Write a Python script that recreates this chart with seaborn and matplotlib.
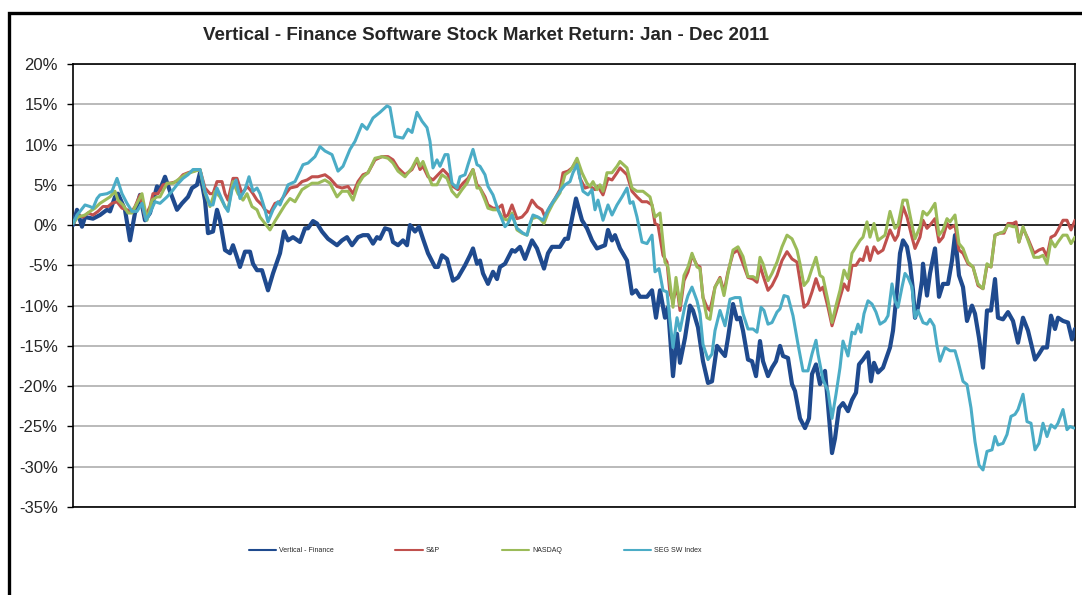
import numpy as np
import pandas as pd
import seaborn as sns
import matplotlib.pyplot as plt
from matplotlib.ticker import PercentFormatter, MultipleLocator
from matplotlib.patches import Rectangle

# position in the year (0 = first trading day of Jan, 1002 = last of Dec), return in %
vf_t = [0, 4, 9, 12, 20, 27, 34, 37, 42, 45, 52, 57, 62, 67, 72, 77, 84, 87, 92, 97,
        104, 109, 115, 119, 124, 127, 132, 135, 140, 144, 147, 152, 157, 160, 164, 167, 172, 177, 180, 184,
        189, 195, 200, 207, 211, 215, 220, 227, 232, 235, 240, 244, 249, 255, 264, 269, 274, 279, 285, 290,
        295, 300, 304, 307, 312, 317, 320, 325, 330, 334, 337, 342, 346, 350, 355, 362, 365, 369, 374, 380,
        385, 392, 397, 400, 404, 407, 410, 415, 420, 424, 427, 432, 439, 442, 447, 452, 459, 464, 471, 475,
        479, 487, 492, 495, 503, 509, 514, 519, 524, 532, 535, 539, 542, 547, 554, 559, 563, 567, 574, 579,
        583, 587, 592, 595, 600, 604, 607, 612, 617, 620, 625, 630, 635, 639, 644, 649, 652, 655, 660, 664,
        667, 670, 675, 679, 683, 687, 690, 695, 699, 703, 707, 710, 715, 719, 722, 727, 732, 736, 739, 743,
        747, 752, 755, 759, 762, 766, 770, 775, 779, 783, 786, 790, 795, 798, 801, 805, 810, 817, 820, 824,
        827, 830, 834, 837, 840, 842, 845, 849, 850, 854, 857, 862, 866, 870, 875, 879, 882, 886, 890, 894,
        899, 902, 906, 910, 914, 918, 922, 925, 930, 935, 940, 945, 950, 955, 962, 966, 970, 974, 978, 982,
        985, 990, 995, 999, 1002]
vf_ret = [0, 1.9, -0.2, 1.0, 0.8, 1.25, 1.9, 1.7, 3.5, 3.9, 1.9, -1.9, 1.5, 3.75, 0.6, 1.5, 4.8, 4.4, 6.0, 4.2,
          1.9, 2.7, 3.5, 4.6, 5.0, 6.5, 3.1, -1.0, -0.8, 1.9, 0.6, -3.1, -3.5, -2.5, -4.0, -5.2, -3.3, -3.3, -4.8, -5.6,
          -5.6, -8.1, -6.0, -3.5, -0.8, -1.9, -1.5, -2.1, -0.4, -0.4, 0.5, 0.2, -0.8, -1.7, -2.5, -1.9, -1.5, -2.5, -1.5, -1.25,
          -1.25, -2.3, -1.5, -1.7, -0.4, -0.6, -2.1, -2.5, -1.9, -2.5, 0, -0.8, -0.2, -1.7, -3.5, -5.2, -5.2, -3.75, -4.2, -6.9,
          -6.5, -5.0, -3.75, -2.9, -4.8, -4.4, -6.0, -7.3, -5.8, -6.7, -5.2, -4.8, -3.1, -3.3, -2.7, -4.2, -1.9, -2.9, -5.4, -3.5,
          -2.7, -2.7, -1.7, -1.7, 3.3, 0.6, -0.4, -1.9, -2.9, -2.5, -0.6, -1.9, -1.25, -2.9, -4.4, -8.5, -8.1, -8.9, -8.9, -8.1,
          -11.5, -8.1, -11.5, -10.2, -18.75, -13.5, -17.1, -14.0, -10.0, -10.6, -12.7, -16.9, -19.6, -19.4, -15.0, -15.8, -16.25, -14.0, -9.8, -11.7,
          -11.5, -13.1, -16.7, -16.9, -18.75, -14.4, -16.9, -18.75, -17.7, -16.9, -15.0, -16.25, -16.5, -19.75, -20.6, -24.0, -25.2, -24.0, -18.5, -17.3,
          -19.75, -18.1, -22.3, -28.3, -26.5, -22.7, -22.1, -23.1, -21.7, -20.8, -17.3, -16.7, -15.8, -19.4, -17.1, -18.3, -17.7, -15.2, -13.1, -8.1,
          -3.5, -1.9, -2.7, -4.8, -8.1, -11.5, -10.2, -6.9, -4.8, -8.75, -6.0, -2.9, -8.9, -7.3, -7.3, -4.4, -1.25, -6.25, -7.7, -11.9,
          -10.0, -11.0, -14.0, -17.7, -10.6, -10.6, -6.7, -11.5, -11.7, -10.8, -11.9, -14.6, -11.5, -13.1, -16.7, -16.0, -15.2, -15.2, -11.25, -12.9,
          -11.5, -11.9, -12.1, -14.2, -12.9]

sp_t = [0, 5, 10, 15, 20, 25, 30, 35, 39, 44, 49, 54, 59, 62, 67, 72, 77, 80, 85, 90,
        97, 104, 110, 115, 120, 127, 132, 137, 140, 144, 149, 152, 155, 160, 164, 169, 174, 177, 180, 184,
        189, 192, 197, 202, 207, 212, 217, 224, 229, 234, 239, 245, 252, 257, 264, 269, 275, 280, 285, 290,
        295, 302, 309, 315, 320, 325, 332, 339, 344, 347, 350, 355, 360, 365, 370, 375, 380, 385, 390, 395,
        400, 404, 407, 412, 415, 420, 425, 429, 432, 435, 439, 444, 449, 454, 459, 464, 469, 472, 477, 482,
        487, 490, 495, 499, 504, 507, 512, 517, 522, 525, 530, 535, 539, 544, 547, 554, 559, 564, 569, 574,
        579, 582, 585, 590, 594, 597, 600, 604, 607, 611, 615, 619, 624, 627, 630, 634, 637, 642, 647, 651,
        655, 660, 665, 670, 675, 680, 684, 687, 690, 695, 699, 704, 709, 714, 719, 724, 727, 731, 735, 739,
        743, 747, 750, 755, 759, 763, 767, 771, 775, 779, 783, 787, 790, 794, 797, 801, 805, 810, 817, 822,
        825, 830, 834, 839, 842, 847, 850, 854, 857, 862, 866, 870, 874, 877, 882, 886, 890, 895, 900, 905,
        910, 914, 918, 922, 927, 931, 935, 940, 943, 946, 950, 955, 961, 966, 970, 974, 978, 982, 985, 990,
        994, 998, 1002]
sp_ret = [0.2, 1.25, 1.0, 1.5, 1.25, 1.7, 2.3, 2.3, 2.7, 2.9, 2.1, 1.9, 1.7, 2.3, 3.75, 1.0, 2.3, 3.9, 3.9, 5.0,
          5.2, 5.4, 6.25, 6.5, 6.7, 6.9, 4.6, 3.9, 3.9, 5.4, 5.4, 3.9, 3.1, 5.8, 5.8, 3.9, 4.8, 4.4, 3.9, 3.1,
          2.5, 1.9, 1.5, 2.7, 2.9, 3.75, 4.6, 4.8, 5.4, 5.6, 6.0, 6.0, 6.25, 5.8, 4.8, 4.6, 4.8, 3.9, 5.4, 6.25,
          6.5, 8.1, 8.5, 8.5, 8.1, 7.1, 6.25, 6.9, 8.1, 6.9, 7.3, 6.0, 5.6, 6.25, 6.9, 6.25, 4.8, 4.4, 5.2, 5.8,
          6.9, 5.0, 4.6, 3.5, 2.5, 2.1, 2.1, 2.5, 1.0, 1.25, 2.5, 0.8, 1.0, 1.7, 3.1, 2.3, 1.9, 1.0, 2.3, 3.3,
          4.4, 6.5, 6.7, 7.1, 8.1, 5.8, 4.6, 4.8, 4.4, 4.8, 3.75, 5.8, 5.6, 6.5, 7.1, 6.25, 4.2, 3.5, 2.9, 2.9,
          2.5, 0.2, 0, -3.75, -4.6, -8.5, -9.4, -7.7, -10.6, -6.9, -5.8, -3.75, -5.0, -5.2, -9.0, -10.2, -10.6, -7.7, -6.5, -8.3,
          -5.8, -3.5, -3.1, -4.8, -6.5, -6.7, -7.1, -5.0, -6.25, -8.1, -7.5, -6.25, -4.4, -3.3, -4.2, -4.6, -6.9, -10.2, -9.75, -8.3,
          -6.65, -8.1, -7.7, -10.2, -12.5, -10.8, -9.0, -7.3, -8.1, -5.0, -5.0, -4.2, -4.4, -2.7, -4.4, -2.7, -3.5, -3.1, -0.6, -1.9,
          -1.25, 2.3, 1.0, -1.5, -2.9, -1.5, 0.6, -0.4, 0, 0.8, -2.1, -1.5, 0.2, -0.4, 0, -3.1, -3.5, -4.8, -5.2, -7.5,
          -7.9, -5.0, -5.2, -1.25, -1.0, -1.0, 0.2, 0.2, 0.4, -2.1, -0.4, -1.7, -3.5, -3.1, -2.9, -3.9, -1.5, -1.25, -0.6, 0.6,
          0.6, -0.6, 0.6]

nq_t = [0, 5, 12, 17, 22, 27, 32, 37, 42, 45, 50, 55, 59, 64, 69, 74, 79, 84, 87, 94,
        100, 107, 112, 117, 122, 127, 132, 137, 142, 147, 152, 155, 160, 165, 170, 174, 179, 184, 187, 192,
        197, 202, 207, 212, 217, 222, 229, 234, 239, 245, 252, 257, 264, 269, 275, 280, 285, 290, 295, 302,
        309, 315, 320, 325, 332, 339, 344, 347, 350, 355, 359, 364, 369, 374, 379, 384, 389, 394, 400, 404,
        407, 412, 415, 420, 425, 430, 435, 439, 444, 449, 454, 459, 464, 467, 471, 475, 480, 487, 492, 497,
        500, 504, 509, 514, 517, 520, 524, 527, 530, 534, 539, 544, 547, 554, 559, 564, 570, 577, 582, 587,
        592, 595, 600, 603, 607, 611, 615, 619, 624, 627, 630, 634, 637, 642, 647, 651, 655, 660, 665, 670,
        675, 680, 684, 687, 690, 695, 699, 704, 709, 714, 719, 724, 727, 731, 735, 739, 743, 747, 750, 755,
        759, 763, 767, 771, 775, 779, 783, 787, 790, 794, 797, 801, 805, 812, 817, 822, 825, 830, 834, 839,
        842, 847, 850, 854, 857, 862, 866, 870, 874, 877, 882, 886, 890, 895, 900, 905, 910, 914, 918, 922,
        927, 931, 935, 940, 943, 946, 950, 955, 961, 966, 970, 974, 978, 982, 985, 990, 994, 998, 1002]
nq_ret = [0.2, 1.0, 1.25, 1.7, 2.1, 2.7, 3.1, 3.5, 4.2, 3.1, 2.5, 1.5, 1.5, 2.7, 3.9, 0.6, 3.1, 3.5, 3.5, 5.2,
          5.2, 5.8, 6.25, 6.5, 6.7, 6.9, 4.0, 2.3, 4.2, 3.5, 2.3, 1.9, 5.4, 3.9, 3.1, 3.9, 2.3, 1.9, 1.0, 0.2,
          -0.6, 0.5, 1.5, 2.5, 3.3, 2.9, 4.4, 4.8, 5.2, 5.2, 5.6, 5.2, 3.5, 4.2, 4.2, 3.1, 5.0, 6.0, 6.5, 8.3,
          8.5, 8.3, 7.7, 6.7, 6.0, 7.1, 8.3, 7.3, 7.9, 6.25, 5.0, 5.0, 6.25, 5.8, 4.2, 3.5, 4.4, 5.2, 6.9, 4.6,
          4.6, 3.1, 2.1, 1.9, 1.9, 0.8, 0.6, 1.5, -0.6, -1.0, -1.25, 0.8, 1.0, 0.8, 0.2, 1.5, 2.7, 4.0, 6.25, 6.7,
          7.3, 8.3, 6.5, 5.2, 4.8, 5.4, 4.4, 5.0, 4.2, 6.5, 6.5, 7.3, 7.9, 7.1, 4.6, 4.2, 4.2, 3.5, 1.0, 1.5,
          -4.6, -5.2, -10.2, -6.5, -10.0, -6.25, -5.2, -3.5, -5.2, -5.4, -9.0, -11.5, -11.7, -7.7, -6.65, -8.75, -6.0, -3.1, -2.7, -3.9,
          -6.4, -6.4, -6.7, -4.0, -4.8, -6.9, -6.0, -4.6, -2.7, -1.25, -1.7, -3.1, -4.8, -7.5, -6.9, -5.4, -4.0, -6.25, -6.5, -9.4,
          -12.1, -10.0, -8.1, -5.6, -6.65, -3.5, -2.7, -1.9, -1.5, 0.4, -1.5, 0.2, -1.9, -1.25, 1.7, -0.4, 0, 3.1, 3.1, 0,
          -1.7, -0.2, 1.7, 1.25, 1.7, 2.7, -1.25, -0.6, 0.8, 0.4, 1.25, -2.3, -2.9, -4.6, -5.2, -7.3, -7.9, -4.8, -5.2, -1.25,
          -1.0, -0.8, 0, -0.2, -0.2, -2.1, -0.2, -1.9, -4.0, -4.0, -3.75, -4.8, -1.9, -2.7, -2.1, -1.25, -1.25, -2.3, -1.5]

seg_t = [0, 4, 7, 12, 17, 20, 24, 27, 34, 39, 44, 49, 54, 59, 64, 69, 73, 77, 82, 87,
         94, 99, 104, 110, 115, 120, 127, 132, 137, 140, 144, 147, 152, 155, 159, 163, 167, 172, 176, 180,
         184, 187, 192, 195, 200, 205, 207, 215, 222, 230, 235, 242, 247, 252, 259, 265, 270, 277, 282, 289,
         294, 300, 307, 314, 317, 322, 330, 335, 339, 344, 349, 354, 357, 360, 364, 367, 372, 375, 379, 384,
         387, 392, 395, 400, 404, 407, 412, 415, 420, 425, 432, 435, 439, 444, 450, 454, 457, 460, 465, 470,
         475, 480, 487, 492, 497, 500, 504, 507, 510, 515, 519, 522, 525, 530, 535, 539, 544, 549, 554, 557,
         560, 564, 569, 574, 579, 582, 586, 590, 594, 597, 600, 604, 607, 612, 615, 619, 624, 627, 630, 635,
         639, 642, 647, 652, 657, 662, 667, 670, 675, 680, 684, 688, 691, 695, 699, 704, 707, 711, 715, 720,
         725, 730, 735, 739, 743, 745, 750, 755, 759, 763, 767, 770, 775, 779, 782, 785, 788, 791, 795, 799,
         803, 807, 812, 815, 819, 822, 825, 829, 832, 835, 839, 842, 845, 850, 854, 857, 861, 864, 867, 872,
         877, 882, 885, 890, 894, 898, 902, 906, 910, 914, 919, 922, 925, 930, 934, 938, 942, 945, 950, 954,
         958, 962, 966, 970, 974, 978, 982, 985, 990, 994, 997, 1001]
seg_ret = [0.2, 1.25, 1.7, 2.5, 2.3, 2.1, 3.3, 3.75, 3.9, 4.2, 5.8, 3.9, 2.7, 1.7, 1.7, 2.7, 0.6, 1.5, 2.9, 2.7,
           3.5, 4.2, 5.0, 5.8, 6.25, 6.9, 6.9, 4.2, 2.5, 2.5, 4.6, 3.75, 2.3, 1.7, 4.4, 5.6, 3.3, 4.4, 6.0, 4.2,
           4.6, 3.9, 1.9, 0.4, 1.9, 2.9, 2.5, 5.0, 5.4, 7.5, 7.7, 8.5, 9.75, 9.2, 8.75, 6.7, 7.3, 9.4, 10.4, 12.5,
           11.9, 13.3, 14.0, 14.8, 14.6, 11.0, 10.8, 11.9, 11.5, 14.0, 12.9, 12.1, 10.4, 7.1, 8.1, 7.3, 8.75, 8.75, 5.2, 4.6,
           6.0, 6.25, 7.5, 9.4, 7.5, 7.3, 6.25, 4.8, 3.75, 1.9, -0.2, 0.2, 1.25, -0.4, -1.0, -1.25, 0.2, 1.25, 1.0, 0.6,
           1.9, 2.9, 4.2, 5.0, 5.4, 6.5, 7.5, 5.8, 4.2, 3.75, 4.4, 1.9, 3.1, 0.6, 2.5, 1.25, 2.5, 3.5, 4.6, 2.7,
           2.9, 1.0, -2.1, -2.3, -1.25, -5.8, -5.4, -8.1, -8.3, -11.9, -15.2, -11.5, -13.1, -10.0, -8.75, -7.7, -9.4, -11.0, -14.8, -16.7,
           -16.0, -13.1, -10.6, -12.5, -9.2, -9.0, -9.0, -11.0, -12.9, -12.9, -13.3, -10.2, -10.6, -12.3, -12.1, -10.8, -10.4, -8.75, -8.9, -11.25,
           -14.8, -18.1, -18.1, -16.0, -14.3, -16.0, -19.2, -20.6, -24.0, -21.0, -17.7, -14.4, -16.25, -13.3, -13.5, -12.3, -13.3, -11.0, -9.4, -9.8,
           -10.8, -12.3, -11.9, -11.25, -7.3, -9.4, -10.2, -7.7, -6.0, -6.5, -7.7, -11.5, -10.6, -12.1, -12.3, -11.7, -12.5, -15.0, -16.9, -15.2,
           -15.6, -15.6, -16.9, -19.4, -19.8, -22.7, -26.9, -29.8, -30.4, -28.1, -27.9, -26.25, -27.3, -27.1, -26.0, -23.75, -23.5, -22.9, -21.0, -24.4,
           -24.6, -27.9, -27.1, -24.6, -26.25, -24.8, -25.2, -24.6, -22.9, -25.4, -25.0, -25.2]

series_names = ['Vertical - Finance', 'S&P', 'NASDAQ', 'SEG SW Index']
colors = ['#1f4a8e', '#c0504d', '#9bbb59', '#4bacc6']
widths = [3.0, 2.2, 2.2, 2.2]
title = 'Vertical - Finance Software Stock Market Return: Jan - Dec 2011'

frames = []
for name, t, r in zip(series_names, [vf_t, sp_t, nq_t, seg_t], [vf_ret, sp_ret, nq_ret, seg_ret]):
    frames.append(pd.DataFrame({'t': t, 'ret': r, 'series': name}))
df = pd.concat(frames, ignore_index=True)

sns.set_style('white')
plt.rcParams['font.family'] = ['Liberation Sans', 'DejaVu Sans']
plt.rcParams['axes.unicode_minus'] = False

fig = plt.figure(figsize=(10.82, 5.95), dpi=100)
ax = fig.add_axes([73 / 1082, 1 - 507 / 595, (1075 - 73) / 1082, (507 - 64) / 595])

for name, c, lw in zip(series_names, colors, widths):
    sub = df[df['series'] == name]
    sns.lineplot(data=sub, x='t', y='ret', color=c, linewidth=lw, label=name,
                 estimator=None, sort=False, ax=ax, zorder=3)

ax.set_xlim(0, 1002)
ax.set_ylim(-35, 20)
ax.yaxis.set_major_locator(MultipleLocator(5))
ax.yaxis.set_major_formatter(PercentFormatter(decimals=0))
ax.set_xticks([])
ax.set_xlabel('')
ax.set_ylabel('')
ax.grid(axis='y', color='#b4b4b4', linewidth=1.3, zorder=0)
ax.set_axisbelow(True)
ax.axhline(0, color='black', linewidth=1.1, zorder=2)
ax.tick_params(axis='y', direction='out', length=4, width=1, color='black',
               pad=7, labelsize=12, left=True)
for s in ax.spines.values():
    s.set_color('black')
    s.set_linewidth(1.2)

leg = ax.legend(loc='center', bbox_to_anchor=(475 / 1082, 1 - 551 / 595),
                bbox_transform=fig.transFigure, ncol=4, frameon=False,
                fontsize=5.0, handlelength=4.0, handletextpad=0.36, columnspacing=8.9)
for h in leg.get_lines():
    h.set_linewidth(1.5)

fig.text(486 / 1082, 1 - 35 / 595, title, ha='center', va='center',
         fontsize=13.5, fontweight='bold')

# outer chart frame
fig.patches.append(Rectangle((9 / 1082, -0.05), 1.2, 1 - 13 / 595 + 0.05,
                             transform=fig.transFigure, fill=False,
                             edgecolor='black', linewidth=2.4))

fig.savefig('out.png', dpi=100)
